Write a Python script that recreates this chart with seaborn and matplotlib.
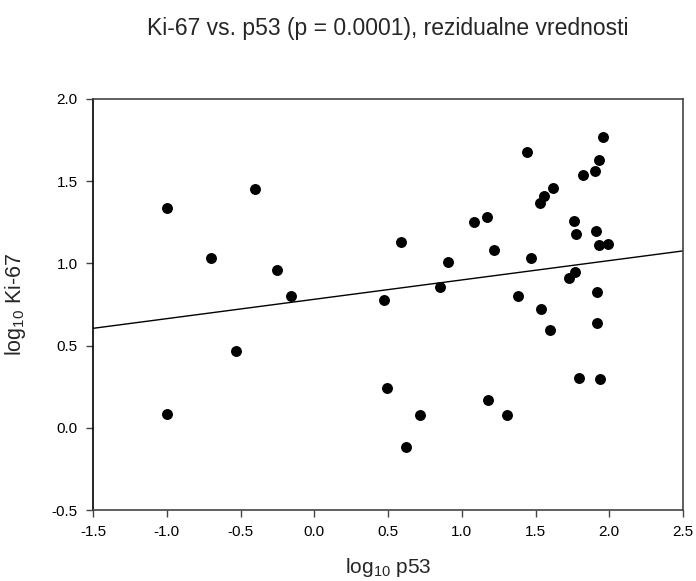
import matplotlib
matplotlib.use("Agg")
import matplotlib.pyplot as plt
import seaborn as sns
import pandas as pd

# Data
log_p53 = [-1.0, -0.40, -0.70, -0.25, -0.16, 0.47, 0.59, 1.955, 1.44, 1.93,
           1.90, 1.82, 1.62, 1.56, 1.53, 1.08, 1.17, 1.76, 1.775, 1.91,
           1.93, 1.99, 1.22, 1.47, 0.91, 0.855, 1.765, 1.73, 1.92, 1.38,
           1.535, 1.92, 1.60, 1.795, 1.94, 0.49, 1.18, 0.72, 1.305, 0.62,
           -0.53, -1.0]
log_ki67 = [1.335, 1.45, 1.03, 0.96, 0.80, 0.78, 1.13, 1.77, 1.68, 1.63,
            1.565, 1.54, 1.46, 1.41, 1.365, 1.25, 1.28, 1.26, 1.18, 1.20,
            1.11, 1.12, 1.08, 1.03, 1.01, 0.857, 0.945, 0.91, 0.825, 0.80,
            0.725, 0.635, 0.595, 0.30, 0.295, 0.245, 0.17, 0.08, 0.077, -0.118,
            0.467, 0.082]
fit_x = [-1.5, 2.5]
fit_y = [0.605, 1.076]
x_ticks = [-1.5, -1.0, -0.5, 0.0, 0.5, 1.0, 1.5, 2.0, 2.5]
y_ticks = [-0.5, 0.0, 0.5, 1.0, 1.5, 2.0]

title = "Ki-67 vs. p53 (p = 0.0001), rezidualne vrednosti"
xlabel = r"log$_{10}$ p53"
ylabel = r"log$_{10}$ Ki-67"

sns.set_style("ticks")
plt.rcParams['font.family'] = ['Liberation Sans', 'DejaVu Sans']
plt.rcParams['mathtext.default'] = 'regular'

df = pd.DataFrame({"x": log_p53, "y": log_ki67})
fit = pd.DataFrame({"x": fit_x, "y": fit_y})

W, H = 696, 581
fig = plt.figure(figsize=(W / 100, H / 100), dpi=100)
L, R, T, B = 93, 683, 99, 510
ax = fig.add_axes([L / W, 1 - B / H, (R - L) / W, (B - T) / H])

sns.lineplot(data=fit, x="x", y="y", ax=ax, color="black", linewidth=1.0)
sns.scatterplot(data=df, x="x", y="y", ax=ax, color="black", s=62,
                edgecolor="black", linewidth=0, zorder=3)

ax.set_xlim(-1.5, 2.5)
ax.set_ylim(-0.5, 2.0)
ax.set_xticks(x_ticks)
ax.set_yticks(y_ticks)
ax.set_xticklabels([f"{v:.1f}" for v in x_ticks])
ax.set_yticklabels([f"{v:.1f}" for v in y_ticks])
ax.tick_params(direction="out", length=5, width=1, labelsize=11, colors="#444444",
               labelcolor="black", pad=6)
for side in ["top", "right", "bottom", "left"]:
    ax.spines[side].set_visible(True)
    ax.spines[side].set_color("#444444")
    ax.spines[side].set_linewidth(1.2)
ax.spines["left"].set_color("black")

ax.set_xlabel(xlabel, fontsize=15)
ax.set_ylabel(ylabel, fontsize=15.5)
ax.xaxis.set_label_coords((388 - L) / (R - L), (B - 556) / (B - T))
ax.yaxis.set_label_coords((28 - L) / (R - L), 0.5)
fig.text(388 / W, 1 - 28 / H, title, fontsize=16.5, ha="center", va="center")

fig.savefig("out.png", dpi=100)
